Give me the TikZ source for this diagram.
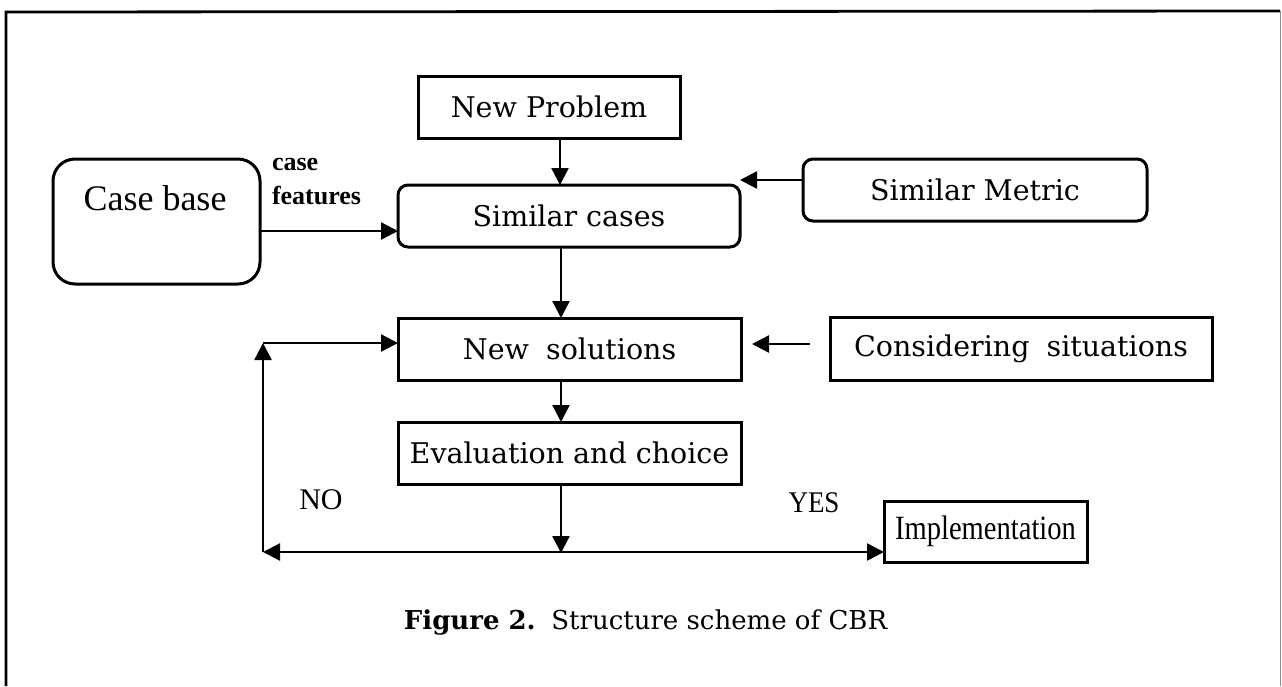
\documentclass[tikz,border=0pt]{standalone}
\usepackage{fontspec}
\newfontfamily\tms{Liberation Serif}
\newfontfamily\cent{DejaVu Serif}
\usetikzlibrary{arrows.meta}
\begin{document}
\begin{tikzpicture}[x=1pt,y=-1pt,
  box/.style={draw,line width=3pt,rectangle,inner sep=0pt,outer sep=0pt,
     font=\cent\fontsize{28.5}{32}\selectfont},
  rbox/.style={box,rounded corners=10pt},
  lbl/.style={inner sep=0pt,outer sep=0pt},
  arr/.style={line width=2.4pt,-{Triangle[length=17pt,width=17pt]}},
  arrb/.style={line width=2.4pt,{Triangle[length=17pt,width=17pt]}-{Triangle[length=17pt,width=17pt]}}
]
\useasboundingbox (0,0) rectangle (1282,686);
% frame
\draw[line width=2.8pt] (6,686) -- (6,12) -- (1280,11);
\draw[line width=0.8pt,black!45] (1280,11) -- (1280,686);

% boxes
\node[box,minimum width=262pt,minimum height=62pt] (np) at (549,107) {New Problem};
\node[rbox,minimum width=342pt,minimum height=62pt] (sc) at (569,216) {Similar cases};
\node[box,rounded corners=22pt,minimum width=207pt,minimum height=125pt] (cb) at (156.5,221.5) {};
\node[lbl,font=\tms\fontsize{36}{40}\selectfont] (cbt) at (155,198) {Case base};
\node[rbox,minimum width=344pt,minimum height=62pt] (sm) at (975,190) {Similar Metric};
\node[box,minimum width=343pt,minimum height=62pt] (ns) at (569.5,349) {New\hspace{0.6em}solutions};
\node[box,minimum width=382pt,minimum height=63pt] (cs) at (1021,348.5) {Considering\hspace{0.6em}situations};
\node[box,minimum width=343pt,minimum height=62pt] (ev) at (569.5,453) {Evaluation and choice};
\node[box,minimum width=203pt,minimum height=61pt,font=\tms\fontsize{34}{38}\selectfont] (im) at (985.5,531.5) {\scalebox{0.84}[1]{Implementation}};

% labels
\node[lbl,anchor=west,font=\tms\bfseries\fontsize{26}{28}\selectfont] (lcase) at (272,164) {case};
\node[lbl,anchor=west,font=\tms\bfseries\fontsize{26}{28}\selectfont] (lfeat) at (272,195) {features};
\node[lbl,font=\tms\fontsize{30}{34}\selectfont] (no) at (321,500) {NO};
\node[lbl,font=\tms\fontsize{30}{34}\selectfont] (yes) at (814,503) {\scalebox{0.9}[1]{YES}};
\node[lbl,font=\cent\fontsize{26}{30}\selectfont] (cap) at (645.5,622) {\textbf{Figure 2.}\hspace{0.6em}Structure scheme of CBR};

% coordinates
\coordinate (bl) at (263,552);
\coordinate (tl) at (263,343);
\coordinate (bm) at (561,553);
\coordinate (csa) at (810,344);
\coordinate (nsa) at (752,344);

% connectors
\draw[arr] ([xshift=11pt]np.south) -- ([xshift=11pt]np.south |- sc.north);
\draw[arr] ([xshift=-8pt]sc.south) -- ([xshift=-8pt]sc.south |- ns.north);
\draw[arr] ([xshift=-8.5pt]ns.south) -- ([xshift=-8.5pt]ns.south |- ev.north);
\draw[arr] ([xshift=-8.5pt]ev.south) -- (bm);
\draw[arr] ([yshift=-9.5pt]cb.east) -- ([yshift=-9.5pt]cb.east -| sc.west);
\draw[arr] ([yshift=10pt]sm.west) -- ([yshift=10pt]sm.west -| sc.east);
\draw[arr] (csa) -- (nsa);
\draw[arrb] (bl) -- (bl -| im.west);
\draw[arr] (bl) -- (tl);
\draw[arr] (tl) -- (tl -| ns.west);
\end{tikzpicture}
\end{document}
